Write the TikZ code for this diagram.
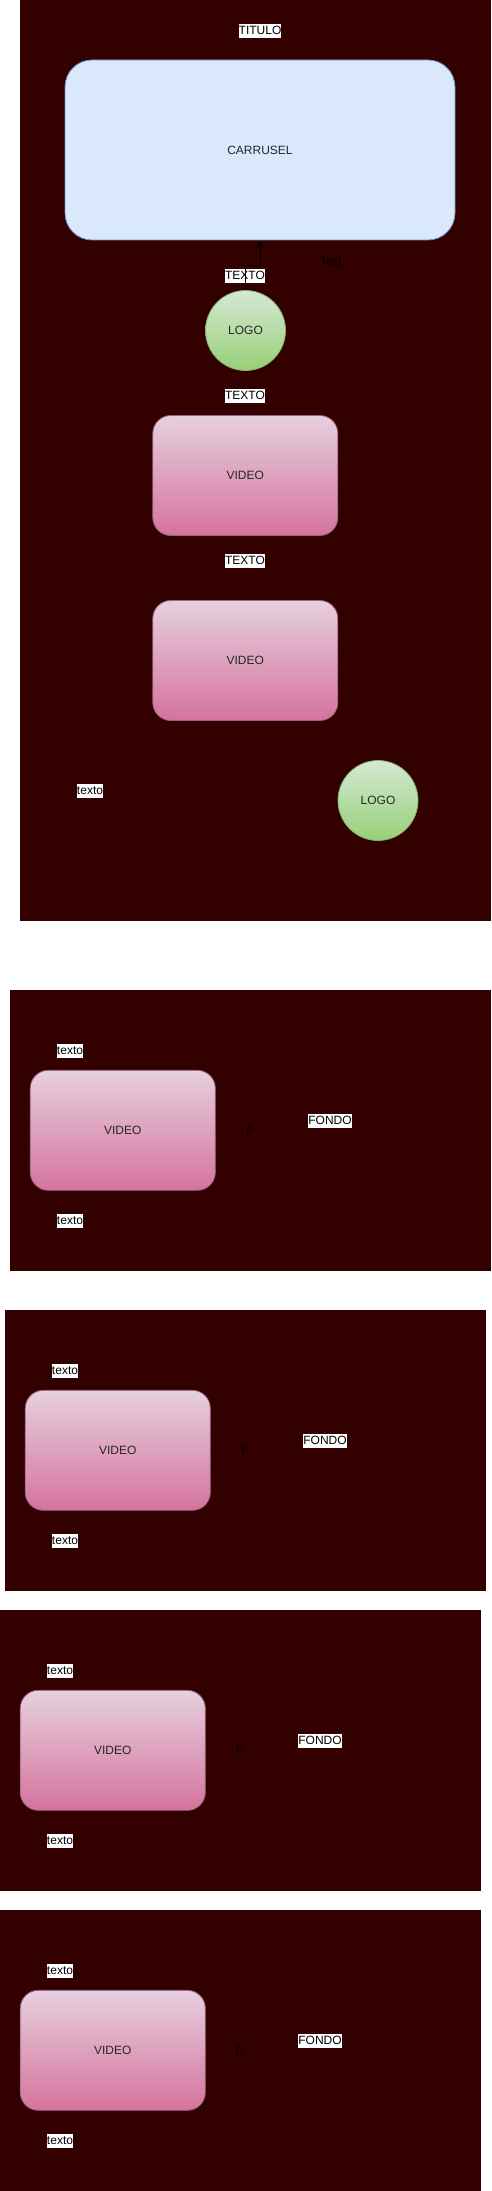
\documentclass[tikz,border=0pt]{standalone}
\usepackage{fontspec}
\setmainfont{Liberation Sans}
\usetikzlibrary{arrows.meta}
\definecolor{panelc}{HTML}{330000}
\definecolor{vidtop}{HTML}{E6D0DE}
\definecolor{vidbot}{HTML}{D5739D}
\definecolor{vidline}{HTML}{996185}
\definecolor{logotop}{HTML}{D5E8D4}
\definecolor{logobot}{HTML}{97D077}
\definecolor{logoline}{HTML}{82B366}
\definecolor{carfill}{HTML}{DAE8FC}
\definecolor{carline}{HTML}{6C8EBF}
\tikzset{
  lbl/.style={fill=white, inner xsep=0pt, inner ysep=0pt, text height=10.5pt, text depth=3.5pt, font=\fontsize{12}{14}\selectfont, text=black},
  faint/.style={inner sep=0pt, font=\fontsize{12}{14}\selectfont, text=black},
  videobox/.style={draw=vidline, line width=0.8pt, top color=vidtop, bottom color=vidbot, rounded corners=18pt, minimum width=185pt, minimum height=120pt, inner sep=0pt, font=\fontsize{12}{14}\selectfont, text=black!85},
  logocirc/.style={circle, draw=logoline, line width=0.8pt, top color=logotop, bottom color=logobot, minimum size=80pt, inner sep=0pt, font=\fontsize{12}{14}\selectfont, text=black!85},
  carbox/.style={draw=carline, line width=0.8pt, fill=carfill, rounded corners=27pt, minimum width=390pt, minimum height=180pt, inner sep=0pt, font=\fontsize{12}{14}\selectfont, text=black!85},
  conn/.style={draw=black, line width=0.8pt, -{Stealth[length=7pt,width=5pt]}}
}
\begin{document}
\begin{tikzpicture}[x=1pt, y=-1pt]
\useasboundingbox (0,0) rectangle (491,2191);
\fill[white] (0,0) rectangle (491,2191);
% panels
\fill[panelc] (20,0) rectangle (491,921);
\fill[panelc] (10,990) rectangle (491,1271);
\fill[panelc] (5,1310) rectangle (486,1591);
\fill[panelc] (0,1610) rectangle (481,1891);
\fill[panelc] (0,1910) rectangle (481,2191);

% panel 1
\node[lbl] (titulo) at (260,31) {TITULO};
\node[carbox] (carrusel) at (260,150) {CARRUSEL};
\node[faint] (txtfaint) at (331,261) {Text};
\node[lbl] (texto1) at (245,276) {TEXTO};
\node[logocirc] (logo1) at (245.5,330.5) {LOGO};
\node[lbl] (texto2) at (245,396) {TEXTO};
\node[videobox] (video1) at (245.3,475.5) {VIDEO};
\node[lbl] (texto3) at (245,561) {TEXTO};
\node[videobox] (video2) at (245.3,660.5) {VIDEO};
\node[lbl] (textos) at (90,791) {texto};
\node[logocirc] (logo2) at (378,800.5) {LOGO};
\coordinate (bend) at (245.5,265);
\draw[conn] (logo1.north) -- (bend) -| (carrusel.south);

% panel 2
\node[lbl] (p2ta) at (70,1051) {texto};
\node[videobox] (p2v) at (122.8,1130.3) {VIDEO};
\node[lbl] (p2tb) at (70,1221) {texto};
\node[faint] (p2f) at (250,1130.5) {F};
\node[lbl] (p2fondo) at (330,1121) {FONDO};

% panel 3
\node[lbl] (p3ta) at (65,1371) {texto};
\node[videobox] (p3v) at (117.8,1450.3) {VIDEO};
\node[lbl] (p3tb) at (65,1541) {texto};
\node[faint] (p3f) at (245,1450.7) {F};
\node[lbl] (p3fondo) at (325,1441) {FONDO};

% panel 4
\node[lbl] (p4ta) at (60,1671) {texto};
\node[videobox] (p4v) at (112.8,1750.3) {VIDEO};
\node[lbl] (p4tb) at (60,1841) {texto};
\node[faint] (p4f) at (240,1750.7) {F};
\node[lbl] (p4fondo) at (320,1741) {FONDO};

% panel 5
\node[lbl] (p5ta) at (60,1971) {texto};
\node[videobox] (p5v) at (112.8,2050.3) {VIDEO};
\node[lbl] (p5tb) at (60,2141) {texto};
\node[faint] (p5f) at (239.3,2050.7) {E};
\node[lbl] (p5fondo) at (320,2041) {FONDO};
\end{tikzpicture}
\end{document}
